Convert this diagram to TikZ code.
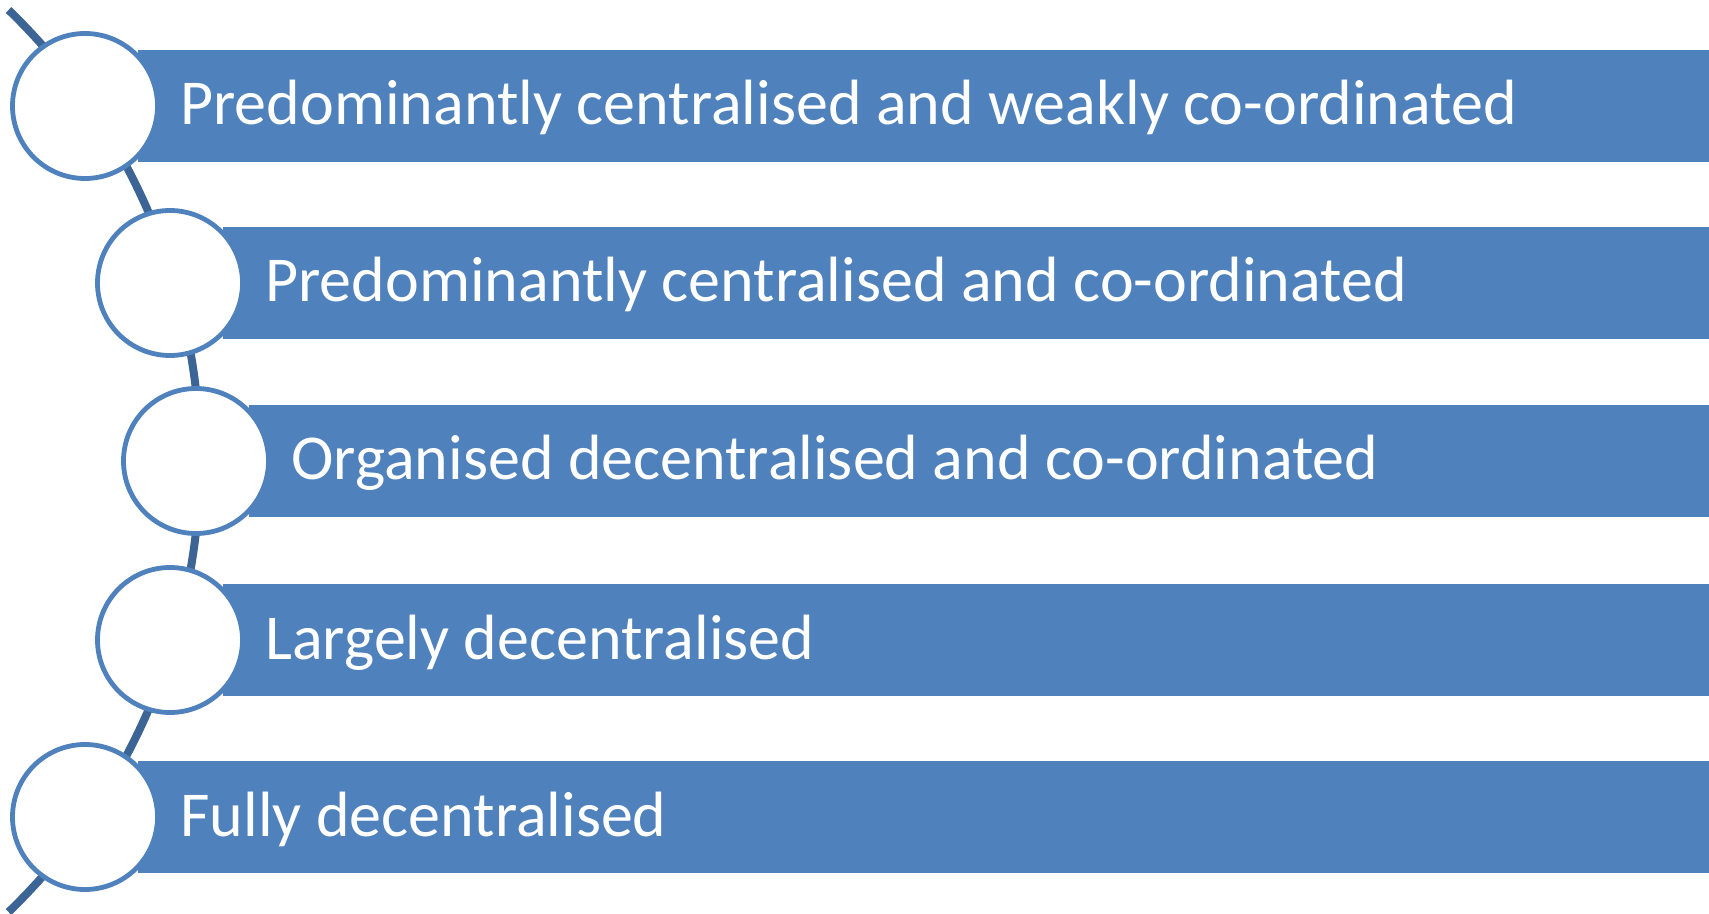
\documentclass[tikz,border=0pt]{standalone}
\usepackage{fontspec}
\setmainfont{Carlito}
\definecolor{barblue}{RGB}{79,129,189}
\definecolor{spineblue}{RGB}{60,100,148}

\begin{document}
\begin{tikzpicture}[x=0.5pt,y=-0.5pt,
    stage/.style={circle,draw=barblue,line width=2.4pt,fill=white,minimum size=72.5pt,inner sep=0pt},
    bartext/.style={anchor=base west,text=white,inner sep=0pt,font=\fontsize{32}{38}\selectfont}]
  \useasboundingbox (0,0) rectangle (1709,914);

  % the bent spine behind the circles
  \draw[spineblue,line width=4pt] (-427,461) ++(-46:627) arc (-46:46:627);

  \foreach \i/\cx/\cy/\txt in {
      1/85/106/{Predominantly centralised and weakly co-ordinated},
      2/170/283/{Predominantly centralised and co-ordinated},
      3/196/461/{Organised decentralised and co-ordinated},
      4/170/640/{Largely decentralised},
      5/85/817/{Fully decentralised}}
  {
    \fill[barblue] (\cx+53,\cy-56) rectangle (1709,\cy+56);
    \node[bartext] (t\i) at (\cx+95,\cy+19) {\txt};
    \node[stage] (c\i) at (\cx,\cy) {};
  }
\end{tikzpicture}
\end{document}
